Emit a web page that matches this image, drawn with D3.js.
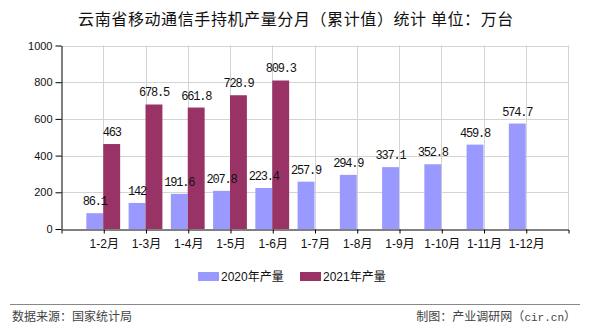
<!DOCTYPE html>
<html>
<head>
<meta charset="utf-8">
<script src="https://cdn.jsdelivr.net/npm/d3@7/dist/d3.min.js"></script>
<style>
  html, body { margin: 0; padding: 0; background: #fff; }
  svg { display: block; }
</style>
</head>
<body>
<svg id="chart" width="590" height="330"></svg>
<script>
// Monthly cumulative output of mobile handsets, Yunnan (unit: 10k units)
const categories = ["1-2月", "1-3月", "1-4月", "1-5月", "1-6月", "1-7月", "1-8月", "1-9月", "1-10月", "1-11月", "1-12月"];
const values2020 = [86.1, 142, 191.6, 207.8, 223.4, 257.9, 294.9, 337.1, 352.8, 459.8, 574.7];
const values2021 = [463, 678.5, 661.8, 728.9, 809.3, null, null, null, null, null, null];
const seriesNames = ["2020年产量", "2021年产量"];
const seriesColors = ["#9999FF", "#993366"];
const yTicks = [0, 200, 400, 600, 800, 1000];

const svg = d3.select("#chart");
const plot = { left: 61, right: 568, top: 45.5, bottom: 229 };
const cjk = "'Liberation Sans', 'Noto Sans CJK SC', sans-serif";

const x = d3.scalePoint().domain(categories).range([plot.left, plot.right]).padding(1);
const y = d3.scaleLinear().domain([0, 1000]).range([plot.bottom, plot.top]);
const barW = x.step() * 0.4;

// Title
svg.append("text")
  .attr("x", 296).attr("y", 25)
  .attr("text-anchor", "middle")
  .style("font-family", "'Noto Sans CJK SC', sans-serif")
  .style("font-size", "16px")
  .style("letter-spacing", "0.6px")
  .attr("fill", "#111")
  .text("云南省移动通信手持机产量分月（累计值）统计 单位：万台");

// Grid
const grid = svg.append("g").attr("stroke", "#d4d4d4").attr("stroke-width", 1);
yTicks.filter(d => d > 0).forEach(t => {
  grid.append("line").attr("x1", plot.left).attr("x2", plot.right)
    .attr("y1", Math.round(y(t)) + 0.5).attr("y2", Math.round(y(t)) + 0.5);
});
categories.forEach(c => {
  grid.append("line").attr("x1", Math.round(x(c)) + 0.5).attr("x2", Math.round(x(c)) + 0.5)
    .attr("y1", plot.top).attr("y2", plot.bottom);
});
grid.append("line").attr("x1", plot.right + 0.5).attr("x2", plot.right + 0.5)
  .attr("y1", plot.top).attr("y2", plot.bottom);

// Bars
const bars = svg.append("g");
categories.forEach((c, i) => {
  const cx = x(c);
  if (values2020[i] != null) {
    bars.append("rect").attr("x", cx - barW).attr("width", barW)
      .attr("y", y(values2020[i])).attr("height", y(0) - y(values2020[i]))
      .attr("fill", seriesColors[0]);
  }
  if (values2021[i] != null) {
    bars.append("rect").attr("x", cx).attr("width", barW)
      .attr("y", y(values2021[i])).attr("height", y(0) - y(values2021[i]))
      .attr("fill", seriesColors[1]);
  }
});

// Value labels
const labels = svg.append("g")
  .style("font-family", "'Liberation Mono', 'DejaVu Sans Mono', monospace")
  .style("font-size", "12px")
  .style("letter-spacing", "-1.2px")
  .attr("fill", "#111")
  .attr("text-anchor", "middle");
categories.forEach((c, i) => {
  const cx = x(c);
  if (values2020[i] != null) {
    labels.append("text").attr("x", cx - barW / 2).attr("y", y(values2020[i]) - 8).text(values2020[i]);
  }
  if (values2021[i] != null) {
    labels.append("text").attr("x", cx + barW / 2).attr("y", y(values2021[i]) - 8).text(values2021[i]);
  }
});

// Y axis
const yAxis = svg.append("g")
  .attr("transform", `translate(${plot.left + 0.5},0)`)
  .call(d3.axisLeft(y).tickValues(yTicks).tickFormat(d3.format("d")).tickSize(6).tickPadding(3).tickSizeOuter(0));
yAxis.select(".domain").attr("stroke", "#000");
yAxis.selectAll(".tick line").attr("stroke", "#000");
yAxis.selectAll("text").style("font-family", "'Liberation Sans', sans-serif").style("font-size", "11px").attr("fill", "#111");

// X axis
const xAxis = svg.append("g")
  .attr("transform", `translate(0.5,${plot.bottom + 0.5})`)
  .call(d3.axisBottom(x).tickSize(4).tickPadding(6).tickSizeOuter(4));
xAxis.select(".domain").attr("stroke", "#000");
xAxis.selectAll(".tick line").attr("stroke", "#000");
xAxis.selectAll("text").style("font-family", cjk).style("font-size", "12px").attr("fill", "#111");

// Legend
const legend = svg.append("g").style("font-family", cjk).style("font-size", "12px");
const legendX = [198, 300];
seriesNames.forEach((name, i) => {
  legend.append("rect").attr("x", legendX[i]).attr("y", 272).attr("width", 21).attr("height", 9).attr("fill", seriesColors[i]);
  legend.append("text").attr("x", legendX[i] + 23).attr("y", 281).attr("fill", "#111").text(name);
});

// Footer
svg.append("line").attr("x1", 10).attr("x2", 580).attr("y1", 304.5).attr("y2", 304.5)
  .attr("stroke", "#888").attr("stroke-width", 1);
svg.append("text").attr("x", 12).attr("y", 321)
  .style("font-family", "'Noto Sans CJK SC', sans-serif").style("font-size", "12px").attr("fill", "#444")
  .text("数据来源：国家统计局");
const credit = svg.append("text").attr("x", 576).attr("y", 321).attr("text-anchor", "end")
  .style("font-family", "'Noto Sans CJK SC', sans-serif").style("font-size", "12px").attr("fill", "#444");
credit.append("tspan").text("制图：产业调研网（");
credit.append("tspan").style("font-family", "'Liberation Mono', monospace").style("font-size", "11px").text("cir.cn");
credit.append("tspan").text("）");
</script>
</body>
</html>
